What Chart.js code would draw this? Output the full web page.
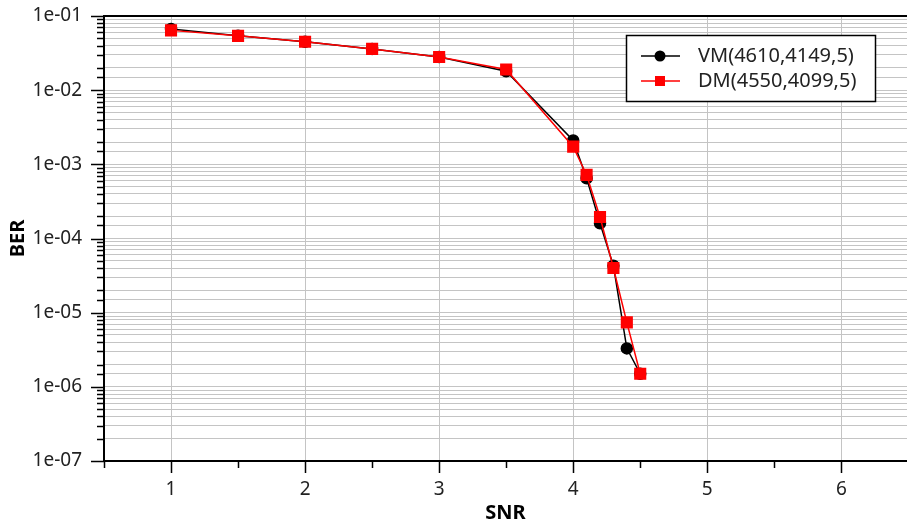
<!DOCTYPE html>
<html>
<head>
<meta charset="utf-8">
<script src="https://cdn.jsdelivr.net/npm/chart.js@4/dist/chart.umd.min.js"></script>
<style>
  body { margin: 0; background: #fff; }
</style>
</head>
<body>
<canvas id="myChart" width="907" height="527"></canvas>
<script>
// donnees
const snr = [1, 1.5, 2, 2.5, 3, 3.5, 4, 4.1, 4.2, 4.3, 4.4, 4.5]
const berVM = [0.067, 0.054, 0.045, 0.036, 0.028, 0.018, 2.1e-3, 6.5e-4, 1.6e-4, 4.3e-5, 3.3e-6, 1.5e-6]
const berDM = [0.064, 0.054, 0.045, 0.036, 0.028, 0.019, 1.73e-3, 7.2e-4, 1.95e-4, 4.0e-5, 7.4e-6, 1.5e-6]
const labelVM = "VM(4610,4149,5)"
const labelDM = "DM(4550,4099,5)"
const xTicks = [1, 2, 3, 4, 5, 6]
const xMinorTicks = [0.5, 1.5, 2.5, 3.5, 4.5, 5.5, 6.5]

const police = "'Noto Sans', sans-serif"

function isDecade(v) {
    const l = Math.log10(v)
    return Math.abs(l - Math.round(l)) < 1e-6
}

// traits de graduation + cadre du haut + legende
const decor = {
    id: "decor",
    afterDraw(chart) {
        const ctx = chart.ctx
        const xs = chart.scales.x
        const ys = chart.scales.y
        const area = chart.chartArea
        ctx.save()
        ctx.strokeStyle = "#000"
        ctx.lineWidth = 1.5
        ctx.beginPath()
        ys.ticks.forEach(t => {
            const py = Math.round(ys.getPixelForValue(t.value)) + 0.5
            const len = isDecade(t.value) ? 13 : 7
            ctx.moveTo(area.left - len, py)
            ctx.lineTo(area.left, py)
        })
        xTicks.forEach(v => {
            const px = Math.round(xs.getPixelForValue(v)) + 0.5
            ctx.moveTo(px, area.bottom)
            ctx.lineTo(px, area.bottom + 12)
        })
        xMinorTicks.forEach(v => {
            const px = Math.round(xs.getPixelForValue(v)) + 0.5
            if (px > area.right) return
            ctx.moveTo(px, area.bottom)
            ctx.lineTo(px, area.bottom + 7)
        })
        ctx.stroke()

        // ligne du haut
        ctx.lineWidth = 2
        ctx.beginPath()
        ctx.moveTo(area.left, area.top)
        ctx.lineTo(area.right, area.top)
        ctx.stroke()

        // legende
        const bx = 626, by = 35, bw = 249, bh = 66
        ctx.fillStyle = "#fff"
        ctx.fillRect(bx, by, bw, bh)
        ctx.lineWidth = 1.5
        ctx.strokeStyle = "#000"
        ctx.strokeRect(bx + 0.5, by + 0.5, bw, bh)

        const entrees = [
            { texte: labelVM, couleur: "#000", forme: "circle", y: 56 },
            { texte: labelDM, couleur: "#ff0000", forme: "rect", y: 81 }
        ]
        entrees.forEach(e => {
            ctx.strokeStyle = e.couleur
            ctx.fillStyle = e.couleur
            ctx.lineWidth = 1.5
            ctx.beginPath()
            ctx.moveTo(641, e.y)
            ctx.lineTo(680, e.y)
            ctx.stroke()
            if (e.forme === "circle") {
                ctx.beginPath()
                ctx.arc(660, e.y, 5.5, 0, Math.PI * 2)
                ctx.fill()
            } else {
                ctx.fillRect(655, e.y - 5, 10, 10)
            }
            ctx.fillStyle = "#222"
            ctx.font = "20px " + police
            ctx.textBaseline = "middle"
            ctx.textAlign = "left"
            ctx.fillText(e.texte, 698, e.y)
        })
        ctx.restore()
    }
}

const data = {
    datasets: [
        {
            label: labelVM,
            data: snr.map((x, i) => ({ x: x, y: berVM[i] })),
            borderColor: "#000",
            backgroundColor: "#000",
            borderWidth: 1.5,
            pointStyle: "circle",
            pointRadius: 5.5,
            order: 1
        },
        {
            label: labelDM,
            data: snr.map((x, i) => ({ x: x, y: berDM[i] })),
            borderColor: "#ff0000",
            backgroundColor: "#ff0000",
            borderWidth: 1.5,
            pointStyle: "rect",
            pointRadius: 7.5,
            order: 0
        }
    ]
}

const config = {
    type: "line",
    data: data,
    options: {
        responsive: false,
        animation: false,
        layout: { autoPadding: false, padding: { top: 16, right: 0, left: 0, bottom: 0 } },
        plugins: {
            legend: { display: false },
            tooltip: { enabled: false }
        },
        scales: {
            x: {
                type: "linear",
                min: 0.5,
                max: 6.49,
                afterBuildTicks: scale => { scale.ticks = xTicks.map(v => ({ value: v })) },
                afterFit: scale => {
                    scale.height = 66
                    scale.paddingLeft = 0
                    scale.paddingRight = 0
                },
                grid: { color: "#c4c4c4", lineWidth: 1, drawTicks: false },
                border: { color: "#000", width: 2 },
                ticks: {
                    color: "#222",
                    font: { family: police, size: 19 },
                    padding: 17,
                    callback: v => String(v)
                },
                title: {
                    display: true,
                    text: "SNR",
                    color: "#000",
                    font: { family: police, size: 20, weight: "bold" },
                    padding: { top: 0, bottom: 2 }
                }
            },
            y: {
                type: "logarithmic",
                min: 1e-7,
                max: 1e-1,
                afterFit: scale => {
                    scale.width = 104
                    scale.paddingTop = 0
                    scale.paddingBottom = 0
                },
                grid: { color: "#c4c4c4", lineWidth: 1, drawTicks: false },
                border: { color: "#000", width: 2 },
                ticks: {
                    autoSkip: false,
                    color: "#222",
                    font: { family: police, size: 19 },
                    padding: 22,
                    callback: v => {
                        if (!isDecade(v)) return ""
                        const e = -Math.round(Math.log10(v))
                        return "1e-" + (e < 10 ? "0" + e : e)
                    }
                },
                title: {
                    display: true,
                    text: "BER",
                    color: "#000",
                    font: { family: police, size: 20, weight: "bold" },
                    padding: { top: 6, bottom: 0 }
                }
            }
        }
    },
    plugins: [decor]
}

new Chart(document.querySelector("#myChart"), config)
</script>
</body>
</html>
